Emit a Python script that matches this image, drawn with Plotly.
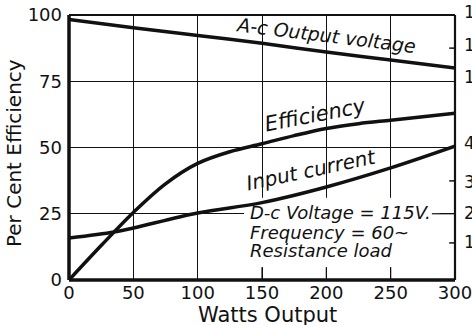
import plotly.graph_objects as go

# Watts output sampled along the horizontal axis
watts = [0, 50, 100, 150, 200, 250, 300]
ac_output_voltage = [98.3, 95.2, 92.3, 89.3, 86.0, 83.0, 80.0]

eff_watts = [0, 25, 50, 75, 100, 125, 150, 175, 200, 225, 250, 275, 300]
efficiency = [0, 13.0, 25.5, 36.3, 44.0, 48.4, 51.4, 54.5, 57.2, 59.0, 60.3, 61.6, 62.9]

cur_watts = [0, 35, 50, 100, 150, 200, 250, 300]
input_current = [15.8, 18.1, 19.6, 25.3, 29.2, 35.1, 42.3, 50.5]

# left scale ticks
y_ticks = [0, 25, 50, 75, 100]
x_ticks = [0, 50, 100, 150, 200, 250, 300]

# right-hand scale labels (partly cut by the page edge) and their heights on the left scale
right_labels = ["1", "1", "1", "4", "3", "2", "1"]
right_label_pos = [101, 88.7, 76.6, 51.7, 37.0, 25.3, 14.3]
right_tick_pos = [87.5, 37.4, 14.0]

# notes inside the chart
note_lines = ["D-c Voltage = 115V.", "Frequency = 60~", "Resistance load"]
note_y = [25.3, 18.1, 11.3]

FONT = "DejaVu Sans"
INK = "#111111"

fig = go.Figure()
curve = dict(color=INK, width=3.5, shape="spline", smoothing=1.0)
fig.add_trace(go.Scatter(x=watts, y=ac_output_voltage, mode="lines", line=curve,
                         name="A-c Output voltage", hoverinfo="skip"))
fig.add_trace(go.Scatter(x=eff_watts, y=efficiency, mode="lines", line=curve,
                         name="Efficiency", hoverinfo="skip"))
fig.add_trace(go.Scatter(x=cur_watts, y=input_current, mode="lines", line=curve,
                         name="Input current", hoverinfo="skip"))

shapes = []
# white area behind the note block hides the grid there
shapes.append(dict(type="rect", xref="x", yref="y", x0=136, x1=288, y0=4.8, y1=31,
                   fillcolor="white", line=dict(width=0), layer="between"))
# short stubs of the vertical grid under the note block
for xv in [150, 200, 250]:
    shapes.append(dict(type="line", xref="x", yref="y", x0=xv, x1=xv, y0=0, y1=4.8,
                       line=dict(color=INK, width=1.2), layer="between"))
# grid line at 25 continues to the right edge beside the note
shapes.append(dict(type="line", xref="x", yref="y", x0=282, x1=300, y0=25, y1=25,
                   line=dict(color=INK, width=1.2), layer="between"))
# right-hand tick marks
for yv in right_tick_pos:
    shapes.append(dict(type="line", xref="paper", yref="y", x0=0.985, x1=1.0, y0=yv, y1=yv,
                       line=dict(color=INK, width=1.5)))
# frame: heavy left and bottom, lighter top and right
shapes.append(dict(type="line", xref="paper", yref="paper", x0=0, x1=0, y0=0, y1=1,
                   line=dict(color=INK, width=3.5)))
shapes.append(dict(type="line", xref="paper", yref="paper", x0=0, x1=1, y0=0, y1=0,
                   line=dict(color=INK, width=3.5)))
shapes.append(dict(type="line", xref="paper", yref="paper", x0=0, x1=1, y0=1, y1=1,
                   line=dict(color=INK, width=2.2)))
shapes.append(dict(type="line", xref="paper", yref="paper", x0=1, x1=1, y0=0, y1=1,
                   line=dict(color=INK, width=2.2)))

annotations = []
label_font = dict(family=FONT, size=18, color=INK, style="italic")
annotations.append(dict(x=199, y=92.3, xref="x", yref="y", text="A-c Output voltage",
                        textangle=7, showarrow=False, font=dict(label_font, size=19)))
annotations.append(dict(x=191, y=62.3, xref="x", yref="y", text="Efficiency",
                        textangle=-11, showarrow=False, font=dict(label_font, size=21)))
annotations.append(dict(x=188, y=41.5, xref="x", yref="y", text="Input current",
                        textangle=-12, showarrow=False, font=dict(label_font, size=20)))
for txt, yv in zip(note_lines, note_y):
    annotations.append(dict(x=139.5, y=yv, xref="x", yref="y", text=txt, xanchor="left",
                            yanchor="middle", showarrow=False, font=label_font))
# right-hand labels placed against the 0-100 scale in paper units
for txt, yv in zip(right_labels, right_label_pos):
    annotations.append(dict(x=1.018, y=yv / 100, xref="paper", yref="paper", text=txt,
                            xanchor="left", yanchor="middle", showarrow=False,
                            font=dict(family=FONT, size=17, color=INK)))
# axis titles
annotations.append(dict(x=0.513, y=-0.132, xref="paper", yref="paper", text="Watts Output",
                        xanchor="center", yanchor="middle", showarrow=False,
                        font=dict(family=FONT, size=21, color=INK)))
annotations.append(dict(x=-0.1425, y=0.479, xref="paper", yref="paper", text="Per Cent Efficiency",
                        textangle=-90, xanchor="center", yanchor="middle", showarrow=False,
                        font=dict(family=FONT, size=20, color=INK)))

fig.update_layout(
    width=472, height=325,
    margin=dict(l=69, r=17, t=15, b=45),
    paper_bgcolor="white", plot_bgcolor="white",
    showlegend=False,
    shapes=shapes, annotations=annotations,
    font=dict(family=FONT, color=INK),
)
fig.update_xaxes(
    range=[0, 300], tickvals=x_ticks, ticks="", showline=False, zeroline=False,
    showgrid=True, gridcolor=INK, gridwidth=1.2, ticklabeloverflow="allow",
    automargin=False, tickfont=dict(family=FONT, size=18, color=INK),
)
fig.update_yaxes(
    range=[0, 100], tickvals=y_ticks, ticks="", showline=False, zeroline=False,
    showgrid=True, gridcolor=INK, gridwidth=1.2, ticklabelstandoff=6,
    automargin=False, tickfont=dict(family=FONT, size=18, color=INK),
)

fig.write_html("out.html")
